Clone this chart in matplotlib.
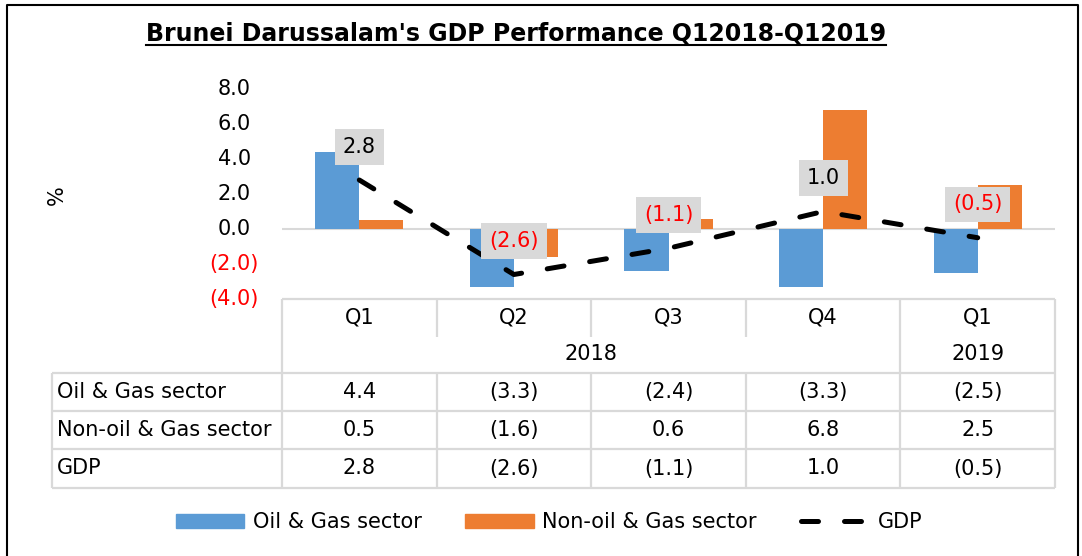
import numpy as np
import matplotlib.pyplot as plt
from matplotlib import transforms
from matplotlib.patches import Patch
from matplotlib.lines import Line2D

quarters = ['Q1', 'Q2', 'Q3', 'Q4', 'Q1']
years = ['2018', '2019']
year_span = [4, 1]
oil_gas = [4.4, -3.3, -2.4, -3.3, -2.5]
non_oil_gas = [0.5, -1.6, 0.6, 6.8, 2.5]
gdp = [2.8, -2.6, -1.1, 1.0, -0.5]
series_names = ['Oil & Gas sector', 'Non-oil & Gas sector', 'GDP']
y_ticks = [-4, -2, 0, 2, 4, 6, 8]

BLUE = '#5b9bd5'
ORANGE = '#ed7d31'
GREY = '#d9d9d9'
RED = '#ff0000'


def fmt(v):
    return '(%.1f)' % abs(v) if v < 0 else '%.1f' % v


plt.rcParams['font.family'] = 'DejaVu Sans'
FS = 15

W, H = 1082, 556
fig = plt.figure(figsize=(W / 100, H / 100), dpi=100)

# overlay in pixel coordinates (y down) for frame, table and texts
ov = fig.add_axes([0, 0, 1, 1])
ov.set_xlim(0, W)
ov.set_ylim(H, 0)
ov.axis('off')

L, R, T, B = 282, 1055, 89, 299
ax = fig.add_axes([L / W, 1 - B / H, (R - L) / W, (B - T) / H])
ax.set_xlim(-0.5, len(quarters) - 0.5)
ax.set_ylim(-4, 8)
ax.patch.set_alpha(0)
for s in ax.spines.values():
    s.set_visible(False)
ax.set_xticks([])
ax.set_yticks([])

x = np.arange(len(quarters))
bw = 0.285
ax.bar(x - bw / 2, oil_gas, bw, color=BLUE, zorder=2)
ax.bar(x + bw / 2, non_oil_gas, bw, color=ORANGE, zorder=2)
ax.axhline(0, color=GREY, lw=1.5, zorder=1)
ax.plot(x, gdp, color='black', lw=3.6, dashes=(3.4, 5.2),
        dash_capstyle='round', zorder=3)

for xi, v in zip(x, gdp):
    ax.annotate(fmt(v), (xi, v), xytext=(0, 24), textcoords='offset points',
                ha='center', va='center', fontsize=FS,
                color=RED if v < 0 else 'black',
                bbox=dict(boxstyle='square,pad=0.38', fc=GREY, ec='none'),
                zorder=4)

# y tick labels (Excel style number format)
ytr = transforms.blended_transform_factory(ov.transData, ax.transData)
for v in y_ticks:
    if v < 0:
        ov.text(259, v, fmt(v), transform=ytr, ha='right', va='center',
                color=RED, fontsize=FS)
    else:
        ov.text(251, v, fmt(v), transform=ytr, ha='right', va='center',
                color='black', fontsize=FS)
ov.text(57, 195, '%', rotation=90, ha='center', va='center', fontsize=FS)

# data table
ctr = transforms.blended_transform_factory(ax.transData, ov.transData)
cw = (R - L) / len(quarters)
edges = [L + i * cw for i in range(len(quarters) + 1)]
y_q, y_yr, y_top, y_row = 299, 337, 373, [373, 411, 449, 488]
lkw = dict(color=GREY, lw=1.6, solid_capstyle='butt')
ov.plot([L, R], [y_q, y_q], **lkw)
for yy in y_row:
    ov.plot([52, R], [yy, yy], **lkw)
ov.plot([52, 52], [y_top, y_row[-1]], **lkw)
year_edges = np.cumsum([0] + year_span)
for i, e in enumerate(edges):
    if i in year_edges:
        ov.plot([e, e], [y_q, y_row[-1]], **lkw)
    else:
        ov.plot([e, e], [y_q, y_yr], **lkw)
        ov.plot([e, e], [y_top, y_row[-1]], **lkw)

for xi, q in zip(x, quarters):
    ov.text(xi, 318, q, transform=ctr, ha='center', va='center', fontsize=FS)
for i, yr in enumerate(years):
    xs = x[year_edges[i]:year_edges[i + 1]]
    ov.text(xs.mean(), 354, yr, transform=ctr, ha='center', va='center',
            fontsize=FS)
for r, (name, vals) in enumerate(zip(series_names, [oil_gas, non_oil_gas, gdp])):
    yc = (y_row[r] + y_row[r + 1]) / 2
    ov.text(57, yc, name, ha='left', va='center', fontsize=FS)
    for xi, v in zip(x, vals):
        ov.text(xi, yc, fmt(v), transform=ctr, ha='center', va='center',
                fontsize=FS)

# legend
handles = [Patch(color=BLUE, label=series_names[0]),
           Patch(color=ORANGE, label=series_names[1]),
           Line2D([], [], color='black', lw=3.6, dashes=(3.4, 5.2),
                  dash_capstyle='round', label=series_names[2])]
fig.legend(handles=handles, loc='center', bbox_to_anchor=(549 / W, 1 - 522 / H),
           ncol=3, frameon=False, fontsize=FS, handlelength=3.3,
           handleheight=0.65, handletextpad=0.4, columnspacing=2.1)

# title with underline
t = ov.text(516, 33, "Brunei Darussalam's GDP Performance Q12018-Q12019",
            ha='center', va='center', fontsize=17, fontweight='bold')
fig.canvas.draw()
bb = t.get_window_extent()
ov.plot([bb.x0, bb.x1], [45, 45], color='black', lw=1.5)

# chart frame
ov.plot([7, 7, 1078, 1078], [H + 5, 5, 5, H + 5], color='black', lw=1.5,
        clip_on=False)

fig.savefig('out.png', dpi=100)
